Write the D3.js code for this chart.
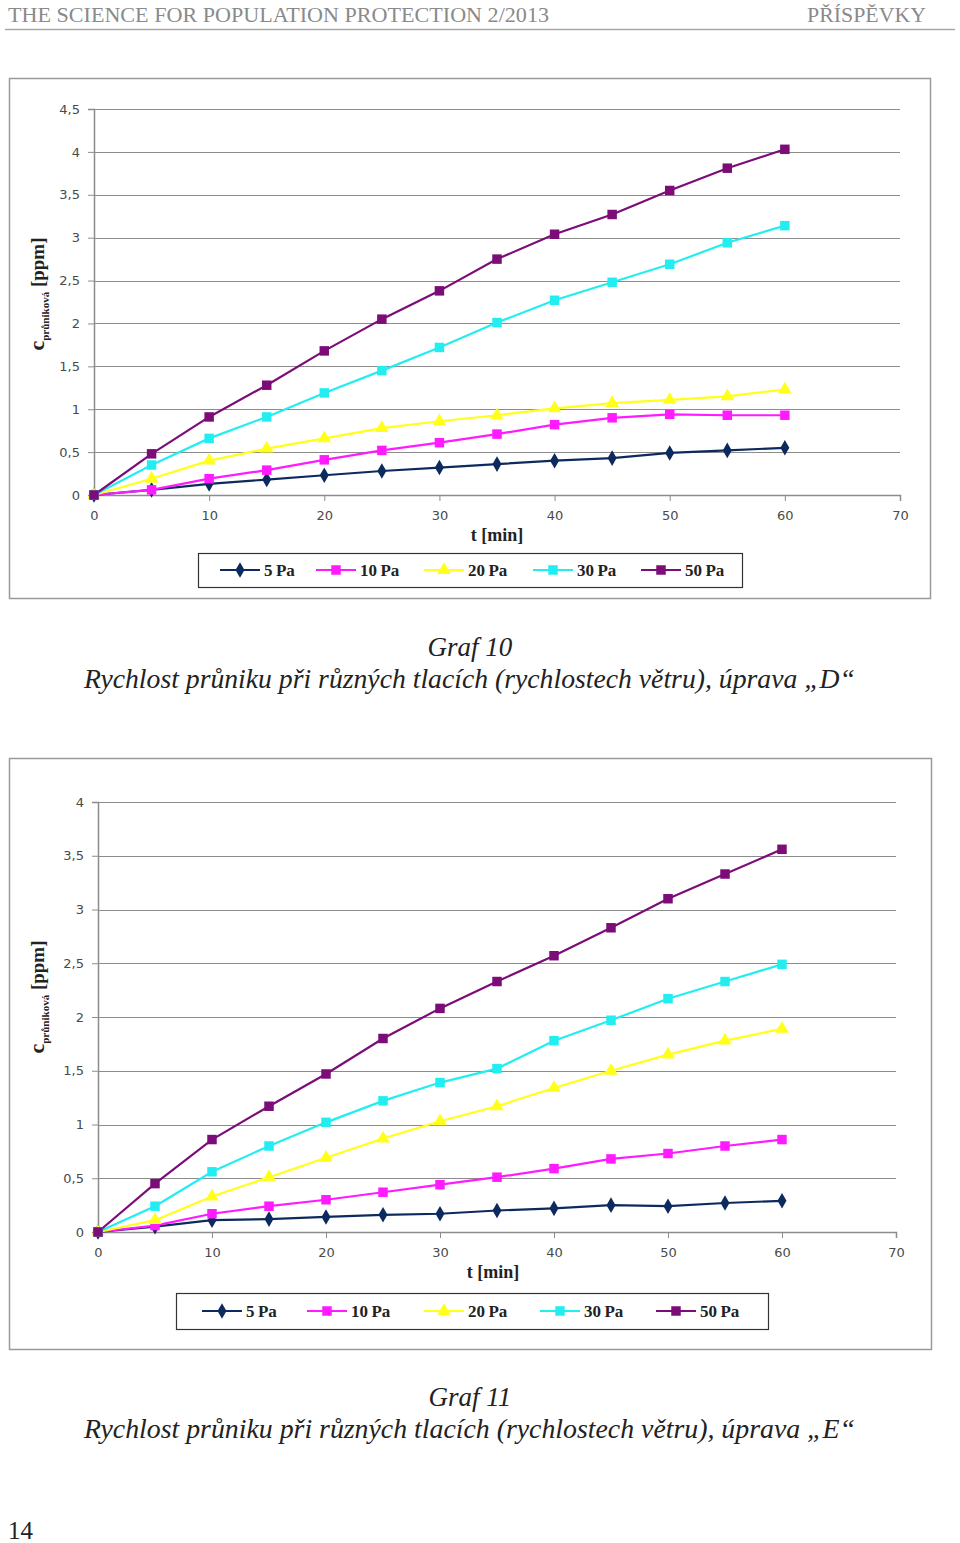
<!DOCTYPE html>
<html><head><meta charset="utf-8">
<script src="https://cdn.jsdelivr.net/npm/d3@7"></script>
<style>body{margin:0;background:#fff}svg{display:block}</style>
</head><body>
<script>
// ---- data ----
const times = [0,5,10,15,20,25,30,35,40,45,50,55,60];
const seriesNames = ["5 Pa","10 Pa","20 Pa","30 Pa","50 Pa"];
const seriesColors = ["#0d2a5e","#ff1aff","#ffff1a","#22eef2","#7b0c78"];
const seriesSymbols = ["diamond","square","triangle","square","square"];
// Graf 10 (úprava D)
const d_5Pa  = [0,0.06,0.13,0.18,0.23,0.28,0.32,0.36,0.40,0.43,0.49,0.52,0.55];
const d_10Pa = [0,0.06,0.19,0.29,0.41,0.52,0.61,0.71,0.82,0.90,0.94,0.93,0.93];
const d_20Pa = [0,0.19,0.40,0.54,0.66,0.78,0.86,0.93,1.01,1.07,1.11,1.15,1.23];
const d_30Pa = [0,0.35,0.66,0.91,1.19,1.45,1.72,2.01,2.27,2.48,2.69,2.94,3.14];
const d_50Pa = [0,0.48,0.91,1.28,1.68,2.05,2.38,2.75,3.04,3.27,3.55,3.81,4.03];
// Graf 11 (úprava E)
const e_5Pa  = [0,0.05,0.11,0.12,0.14,0.16,0.17,0.20,0.22,0.25,0.24,0.27,0.29];
const e_10Pa = [0,0.06,0.17,0.24,0.30,0.37,0.44,0.51,0.59,0.68,0.73,0.80,0.86];
const e_20Pa = [0,0.11,0.33,0.51,0.69,0.87,1.03,1.17,1.34,1.50,1.65,1.78,1.89];
const e_30Pa = [0,0.24,0.56,0.80,1.02,1.22,1.39,1.52,1.78,1.97,2.17,2.33,2.49];
const e_50Pa = [0,0.45,0.86,1.17,1.47,1.80,2.08,2.33,2.57,2.83,3.10,3.33,3.56];
const yTicks1 = [0,0.5,1,1.5,2,2.5,3,3.5,4,4.5];
const yTicks2 = [0,0.5,1,1.5,2,2.5,3,3.5,4];
const xTicks = [0,10,20,30,40,50,60,70];
const headerLeft = "THE SCIENCE FOR POPULATION PROTECTION 2/2013";
const headerRight = "PŘÍSPĚVKY";
const caption1a = "Graf 10";
const caption1b = "Rychlost průniku při různých tlacích (rychlostech větru), úprava „D“";
const caption2a = "Graf 11";
const caption2b = "Rychlost průniku při různých tlacích (rychlostech větru), úprava „E“";
const pageNumber = "14";

const W = 960, H = 1543;
const svg = d3.select("body").append("svg").attr("width", W).attr("height", H);
const serif = "'Liberation Serif','Times New Roman',serif";
const sans = "'DejaVu Sans',Verdana,sans-serif";

// header
svg.append("text").attr("x",8).attr("y",22).attr("font-family",serif).attr("font-size",21)
  .attr("fill","#8a8a8a").attr("textLength",541).attr("lengthAdjust","spacingAndGlyphs").text(headerLeft);
svg.append("text").attr("x",926).attr("y",22).attr("text-anchor","end").attr("font-family",serif).attr("font-size",21)
  .attr("fill","#8a8a8a").attr("textLength",119).attr("lengthAdjust","spacingAndGlyphs").text(headerRight);
svg.append("line").attr("x1",5).attr("x2",955).attr("y1",29.5).attr("y2",29.5).attr("stroke","#a8a8a8").attr("stroke-width",1.5);

const symMap = {diamond:d3.symbolDiamond, square:d3.symbolSquare, triangle:d3.symbolTriangle};
const symSize = {diamond:70, square:90, triangle:80};

function drawChart(cfg){
  const g = svg.append("g");
  g.append("rect").attr("x",cfg.box[0]+0.5).attr("y",cfg.box[1]+0.5).attr("width",cfg.box[2]).attr("height",cfg.box[3])
    .attr("fill","#fff").attr("stroke","#9a9a9a").attr("stroke-width",1.5);
  const x = d3.scaleLinear().domain([0,70]).range([cfg.x0,cfg.x1]);
  const y = d3.scaleLinear().domain([0,cfg.yMax]).range([cfg.y0,cfg.y1]);
  // gridlines
  g.append("g").selectAll("line").data(cfg.yTicks.filter(d=>d>0)).join("line")
    .attr("x1",cfg.x0).attr("x2",cfg.x1).attr("y1",d=>Math.round(y(d))+0.5).attr("y2",d=>Math.round(y(d))+0.5)
    .attr("stroke","#8c8c8c").attr("stroke-width",1);
  // y axis
  const ya = g.append("g").attr("transform",`translate(${cfg.x0},0)`)
    .call(d3.axisLeft(y).tickValues(cfg.yTicks).tickSize(6).tickPadding(8).tickFormat(d=>String(d).replace(".",",")));
  ya.select(".domain").attr("stroke","#8c8c8c").attr("stroke-width",1.5);
  ya.selectAll(".tick line").attr("stroke","#8c8c8c");
  ya.selectAll("text").attr("font-family",sans).attr("font-size",13).attr("fill","#4a4a4a");
  // x axis
  const xa = g.append("g").attr("transform",`translate(0,${cfg.y0})`)
    .call(d3.axisBottom(x).tickValues(xTicks).tickSize(6).tickPadding(10));
  xa.select(".domain").attr("stroke","#8c8c8c").attr("stroke-width",1.5);
  xa.selectAll(".tick line").attr("stroke","#8c8c8c");
  xa.selectAll("text").attr("font-family",sans).attr("font-size",13).attr("fill","#4a4a4a");
  // axis titles
  g.append("text").attr("x",(cfg.x0+cfg.x1)/2 + cfg.xTitleDx).attr("y",cfg.y0+46).attr("text-anchor","middle")
    .attr("font-family",serif).attr("font-size",18).attr("font-weight","bold").attr("fill","#222").text("t [min]");
  const yt = g.append("text").attr("transform",`translate(${cfg.yTitle[0]},${cfg.yTitle[1]}) rotate(-90)`)
    .attr("text-anchor","middle").attr("font-family",serif).attr("fill","#222").attr("font-weight","bold");
  yt.append("tspan").attr("font-size",22).text("c");
  yt.append("tspan").attr("font-size",11).attr("dy",5).text("průniková");
  yt.append("tspan").attr("font-size",19).attr("dy",-5).text(" [ppm]");
  // lines
  const line = d3.line().x((d,i)=>x(times[i])).y(d=>y(d));
  cfg.series.forEach((s,k)=>{
    g.append("path").datum(s).attr("d",line).attr("fill","none").attr("stroke",seriesColors[k]).attr("stroke-width",2.2);
  });
  cfg.series.forEach((s,k)=>{
    const sym = seriesSymbols[k];
    g.append("g").selectAll("path").data(s).join("path")
      .attr("transform",(d,i)=>`translate(${x(times[i])},${y(d)})`)
      .attr("d",d3.symbol().type(symMap[sym]).size(symSize[sym])).attr("fill",seriesColors[k]);
  });
  // legend
  const L = cfg.legend;
  g.append("rect").attr("x",L.box[0]+0.5).attr("y",L.box[1]+0.5).attr("width",L.box[2]).attr("height",L.box[3])
    .attr("fill","#fff").attr("stroke","#333").attr("stroke-width",1.2);
  const ly = L.box[1]+L.box[3]/2;
  seriesNames.forEach((n,k)=>{
    const lx = L.xs[k];
    g.append("line").attr("x1",lx).attr("x2",lx+40).attr("y1",ly).attr("y2",ly).attr("stroke",seriesColors[k]).attr("stroke-width",2.2);
    g.append("path").attr("transform",`translate(${lx+20},${ly})`)
      .attr("d",d3.symbol().type(symMap[seriesSymbols[k]]).size(symSize[seriesSymbols[k]])).attr("fill",seriesColors[k]);
    g.append("text").attr("x",lx+44).attr("y",ly+5.5).attr("font-family",serif).attr("font-size",17)
      .attr("font-weight","bold").attr("fill","#222").text(n.replace(" ","\u2009"));
  });
  // captions
  svg.append("text").attr("x",470).attr("y",cfg.cap[0]).attr("text-anchor","middle").attr("font-family",serif)
    .attr("font-style","italic").attr("font-size",27).attr("fill","#222").text(cfg.capA);
  svg.append("text").attr("x",469.5).attr("y",cfg.cap[1]).attr("text-anchor","middle").attr("font-family",serif)
    .attr("font-style","italic").attr("font-size",27).attr("fill","#222")
    .attr("textLength",771).attr("lengthAdjust","spacingAndGlyphs").text(cfg.capB);
}

drawChart({
  box:[9,78,921,520], x0:94, x1:900, y0:495, y1:109, yMax:4.5, yTicks:yTicks1, xTitleDx:0,
  yTitle:[44,294],
  series:[d_5Pa,d_10Pa,d_20Pa,d_30Pa,d_50Pa],
  legend:{box:[198,553,544,34], xs:[220,316,424,533,641]},
  cap:[656,688], capA:caption1a, capB:caption1b
});
drawChart({
  box:[9,758,922,591], x0:98, x1:896, y0:1232, y1:802, yMax:4, yTicks:yTicks2, xTitleDx:-4,
  yTitle:[44,997],
  series:[e_5Pa,e_10Pa,e_20Pa,e_30Pa,e_50Pa],
  legend:{box:[176,1293,592,36], xs:[202,307,424,540,656]},
  cap:[1406,1438], capA:caption2a, capB:caption2b
});
svg.append("text").attr("x",8).attr("y",1539).attr("font-family",serif).attr("font-size",25).attr("fill","#222").text(pageNumber);
</script>
</body></html>
